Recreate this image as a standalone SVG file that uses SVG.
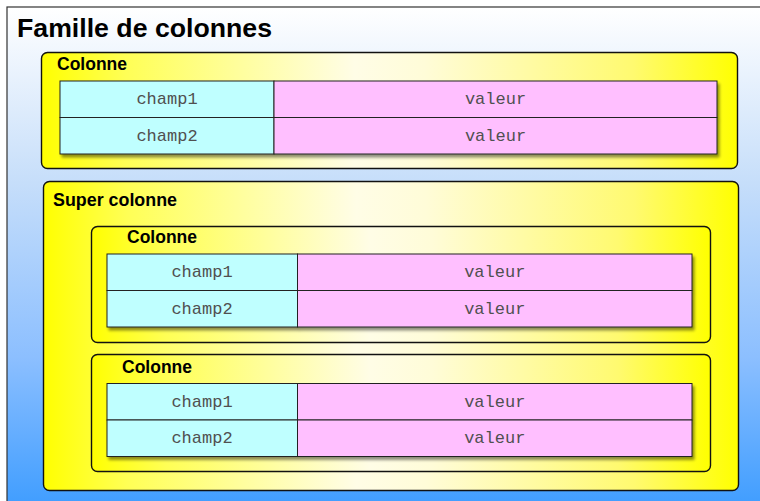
<svg xmlns="http://www.w3.org/2000/svg" width="760" height="501" viewBox="0 0 760 501">
  <defs>
    <linearGradient id="sky" x1="0" y1="0" x2="0" y2="1">
      <stop offset="0" stop-color="#ffffff"/>
      <stop offset="0.35" stop-color="#c6defa"/>
      <stop offset="0.7" stop-color="#8cbfff"/>
      <stop offset="1" stop-color="#3f9dff"/>
    </linearGradient>
    <linearGradient id="gold" x1="0" y1="0" x2="1" y2="0">
      <stop offset="0" stop-color="#ffff00"/>
      <stop offset="0.12" stop-color="#ffff55"/>
      <stop offset="0.45" stop-color="#fffde6"/>
      <stop offset="0.55" stop-color="#fffcd8"/>
      <stop offset="0.85" stop-color="#fffa70"/>
      <stop offset="1" stop-color="#ffff00"/>
    </linearGradient>
    <filter id="shadow" x="-5%" y="-10%" width="110%" height="130%">
      <feGaussianBlur in="SourceAlpha" stdDeviation="1.5"/>
      <feOffset dx="2" dy="3" result="b"/>
      <feComponentTransfer><feFuncA type="linear" slope="0.45"/></feComponentTransfer>
      <feMerge><feMergeNode/><feMergeNode in="SourceGraphic"/></feMerge>
    </filter>
  </defs>
  <style>
    .frame { fill: url(#sky); stroke: #333; stroke-width: 1.2; }
    .box { fill: url(#gold); stroke: #111; stroke-width: 1.4; }
    .key { fill: #bfffff; stroke: #222; stroke-width: 1; }
    .val { fill: #ffbfff; stroke: #222; stroke-width: 1; }
    .title { font-family: "Liberation Sans", Arial, sans-serif; font-weight: bold; font-size: 26px; fill: #000; }
    .label { font-family: "Liberation Sans", Arial, sans-serif; font-weight: bold; font-size: 17.5px; fill: #000; }
    .cell { font-family: "Liberation Mono", "Courier New", monospace; font-size: 17px; fill: #505050; text-anchor: middle; }
  </style>

  <!-- column family frame -->
  <g id="famille">
    <rect class="frame" x="7" y="7" width="760" height="500"/>
    <text class="title" x="17" y="37" textLength="255" lengthAdjust="spacingAndGlyphs">Famille de colonnes</text>
  </g>

  <!-- simple column -->
  <g id="colonne-1">
    <rect class="box" x="41.5" y="52.5" width="696" height="116" rx="6"/>
    <text class="label" x="57" y="70" textLength="70" lengthAdjust="spacingAndGlyphs">Colonne</text>
    <g filter="url(#shadow)">
      <rect class="key" x="60" y="81" width="214" height="36.5"/>
      <rect class="val" x="274" y="81" width="443" height="36.5"/>
      <rect class="key" x="60" y="117.5" width="214" height="36.5"/>
      <rect class="val" x="274" y="117.5" width="443" height="36.5"/>
    </g>
    <text class="cell" x="167" y="104">champ1</text>
    <text class="cell" x="495.5" y="104">valeur</text>
    <text class="cell" x="167" y="140.5">champ2</text>
    <text class="cell" x="495.5" y="140.5">valeur</text>
  </g>

  <!-- super column -->
  <g id="super-colonne">
    <rect class="box" x="43.5" y="181.5" width="695" height="309" rx="6"/>
    <text class="label" x="53" y="206" textLength="124" lengthAdjust="spacingAndGlyphs">Super colonne</text>
  </g>

  <g id="colonne-2">
    <rect class="box" x="91.5" y="226.5" width="619" height="116" rx="6"/>
    <text class="label" x="127" y="243" textLength="70" lengthAdjust="spacingAndGlyphs">Colonne</text>
    <g filter="url(#shadow)">
      <rect class="key" x="107" y="254" width="190.5" height="36.5"/>
      <rect class="val" x="297.5" y="254" width="394.5" height="36.5"/>
      <rect class="key" x="107" y="290.5" width="190.5" height="36.5"/>
      <rect class="val" x="297.5" y="290.5" width="394.5" height="36.5"/>
    </g>
    <text class="cell" x="202" y="277">champ1</text>
    <text class="cell" x="494.75" y="277">valeur</text>
    <text class="cell" x="202" y="313.5">champ2</text>
    <text class="cell" x="494.75" y="313.5">valeur</text>
  </g>

  <g id="colonne-3">
    <rect class="box" x="91.5" y="354.5" width="619" height="117" rx="6"/>
    <text class="label" x="122" y="373" textLength="70" lengthAdjust="spacingAndGlyphs">Colonne</text>
    <g filter="url(#shadow)">
      <rect class="key" x="107" y="383.5" width="190.5" height="36.5"/>
      <rect class="val" x="297.5" y="383.5" width="394.5" height="36.5"/>
      <rect class="key" x="107" y="420" width="190.5" height="36.5"/>
      <rect class="val" x="297.5" y="420" width="394.5" height="36.5"/>
    </g>
    <text class="cell" x="202" y="406.5">champ1</text>
    <text class="cell" x="494.75" y="406.5">valeur</text>
    <text class="cell" x="202" y="443">champ2</text>
    <text class="cell" x="494.75" y="443">valeur</text>
  </g>

  <!-- no connectors in this diagram -->
  <g id="connectors"/>
</svg>
